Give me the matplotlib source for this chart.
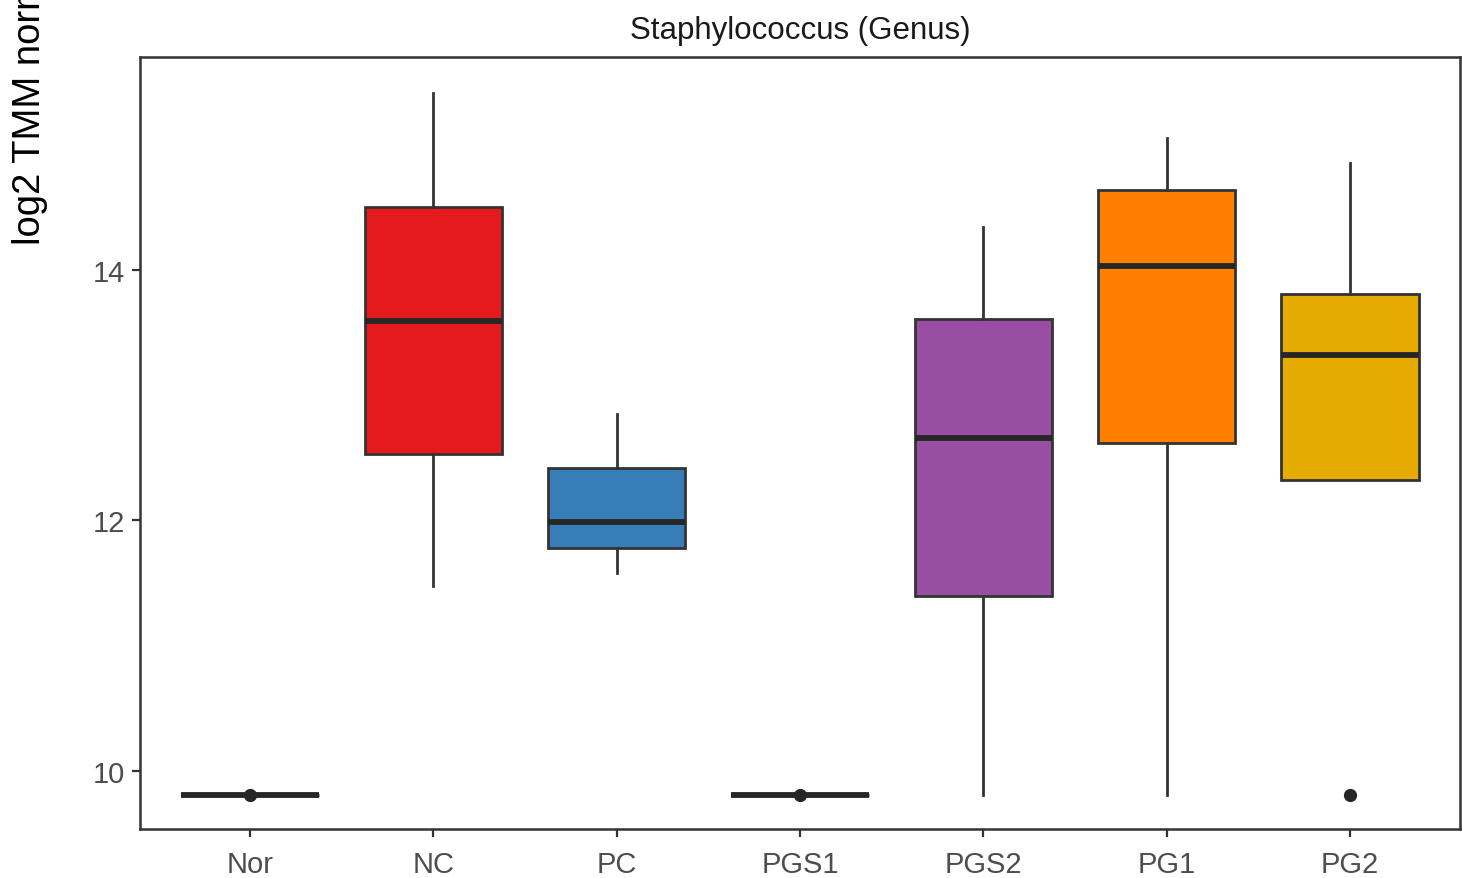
import matplotlib
matplotlib.use("Agg")
import matplotlib.pyplot as plt

plt.rcParams['font.family'] = ['Liberation Sans', 'DejaVu Sans']

# Groups and their box summaries (log2 TMM)
groups = ["Nor", "NC", "PC", "PGS1", "PGS2", "PG1", "PG2"]
whisker_low = [9.81, 11.48, 11.58, 9.81, 9.81, 9.81, 12.32]
q1 = [9.81, 12.53, 11.78, 9.81, 11.40, 12.62, 12.32]
median = [9.81, 13.59, 11.99, 9.81, 12.66, 14.03, 13.32]
q3 = [9.81, 14.50, 12.42, 9.81, 13.61, 14.64, 13.81]
whisker_high = [9.81, 15.41, 12.85, 9.81, 14.34, 15.05, 14.85]
outliers = [[9.81], [], [], [9.81], [], [], [9.81]]
fill_colors = ["#4DAF4A", "#E41A1C", "#377EB8", "#A65628", "#984EA3", "#FF7F00", "#E5AB00"]

title = "Staphylococcus (Genus)"
ylabel = "log2 TMM normalized counts"
yticks = [10, 12, 14]

W, H = 1462, 879
fig = plt.figure(figsize=(W / 100, H / 100), dpi=100)
ax = fig.add_axes([140 / W, 1 - 830 / H, 1320 / W, (830 - 58) / H])

stats = []
for i, g in enumerate(groups):
    stats.append(dict(label=g, med=median[i], q1=q1[i], q3=q3[i],
                      whislo=whisker_low[i], whishi=whisker_high[i],
                      fliers=outliers[i]))

edge = "#333333"
positions = list(range(1, len(groups) + 1))
bp = ax.bxp(stats, positions=positions, widths=0.75, patch_artist=True,
            showcaps=False,
            boxprops=dict(edgecolor=edge, linewidth=2.0),
            medianprops=dict(color="#262626", linewidth=4.2, solid_capstyle="butt"),
            whiskerprops=dict(color=edge, linewidth=2.0),
            flierprops=dict(marker="o", markerfacecolor="#262626",
                            markeredgecolor="#262626", markersize=8.5))
for patch, c in zip(bp["boxes"], fill_colors):
    patch.set_facecolor(c)
    patch.set_zorder(2)

ax.set_xlim(0.4, 7.6)
ax.set_ylim(9.537, 15.70)
ax.set_xticks(positions)
ax.set_xticklabels(groups)
ax.set_yticks(yticks)
ax.set_yticklabels([str(t) for t in yticks])

for s in ax.spines.values():
    s.set_color(edge)
    s.set_linewidth(1.8)
ax.tick_params(axis="both", colors=edge, width=1.6, length=6.0,
               labelcolor="#4D4D4D", labelsize=21)
ax.tick_params(axis="x", pad=9)
ax.tick_params(axis="y", pad=5)
ax.grid(False)

fig.text((140 + 660) / W, 1 - 31 / H, title, ha="center", va="center",
         fontsize=22.5, color="#1A1A1A")
fig.text(30 / W, 1 - 245 / H, ylabel, rotation=90, ha="center", va="bottom",
         fontsize=27.5, color="black")

fig.savefig("out.png", dpi=100, facecolor="white")
